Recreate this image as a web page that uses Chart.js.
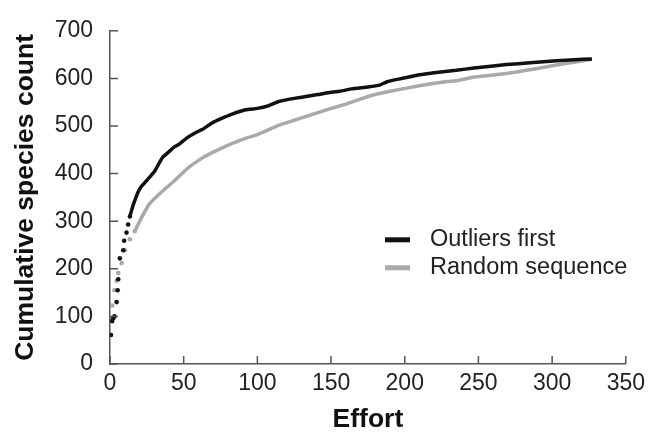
<!DOCTYPE html>
<html>
<head>
<meta charset="utf-8">
<script src="https://cdn.jsdelivr.net/npm/chart.js@4/dist/chart.umd.min.js"></script>
<style>
    html, body { margin: 0; padding: 0; background: #fff; }
    #wrap { width: 651px; height: 440px; }
</style>
</head>
<body>
<div id="wrap"><canvas id="chart-effort"></canvas></div>
<script>
// Değerler
const seriesLabels = ["Outliers first", "Random sequence"];

const effortOutliers = [0.7, 1.5, 2.2, 3, 4.5, 5.2, 5.6, 6.7, 9, 9.6, 11.2, 12.3, 13.5, 15.7, 17, 19,
    21, 23.6, 27, 30.3, 33, 35.9, 40, 43.7, 47, 52.7, 58, 62.8, 69.5, 75, 82, 92, 100, 107, 114,
    125, 135, 141, 148, 156, 164, 175, 183, 188, 195, 209, 220, 235, 247, 260, 269, 285, 303, 315, 327];
const countOutliers = [61, 90, 96, 100, 130, 155, 178, 222, 239, 259, 276, 293, 310, 334, 345, 361,
    372, 381, 393, 405, 420, 435, 446, 456, 462, 476, 486, 493, 507, 515, 524, 534, 537, 542, 551,
    558, 563, 566, 570, 573, 578, 582, 586, 593, 598, 607, 612, 617, 622, 626, 629, 633, 637, 639, 641];

const effortRandom = [1.5, 3, 4.5, 5.6, 7.9, 10.1, 13.5, 16.8, 21.3, 26.9, 34.8, 43.7, 53, 62.8, 70,
    81, 92, 100, 114, 125, 135, 148, 160, 175, 190, 209, 225, 235, 247, 260, 275, 290, 303, 315, 327];
const countRandom = [123, 155, 175, 191, 212, 239, 262, 279, 307, 337, 361, 385, 412, 433, 445,
    461, 474, 482, 501, 512, 522, 535, 546, 562, 573, 584, 592, 595, 603, 607, 613, 621, 628, 634, 640];

const xTicks = [0, 50, 100, 150, 200, 250, 300, 350];
const yTicks = [0, 100, 200, 300, 400, 500, 600, 700];

const toPoints = (xs, ys) => xs.map((x, i) => ({ x, y: ys[i] }));

const AXIS_COLOR = "#555";
const FONT = "'Liberation Sans', Arial, Helvetica, sans-serif";

// Noktalı başlangıç: seyrek kısımda çizgi yok, sadece nokta
function dotUntil(limit) {
    return {
        pointRadius: (c) => (c.raw && c.raw.x < limit ? 2.3 : 0),
        segment: {
            borderColor: (c) => (c.p1.parsed.x < limit ? "rgba(0,0,0,0)" : undefined)
        }
    };
}

// İçe doğru tick çizgileri
const innerTicks = {
    id: "innerTicks",
    afterDraw(chart) {
        const { ctx, chartArea, scales } = chart;
        ctx.save();
        ctx.strokeStyle = AXIS_COLOR;
        ctx.lineWidth = 1.5;
        ctx.beginPath();
        scales.x.ticks.forEach((t) => {
            const px = scales.x.getPixelForValue(t.value);
            ctx.moveTo(px, chartArea.bottom);
            ctx.lineTo(px, chartArea.bottom - 8);
        });
        scales.y.ticks.forEach((t) => {
            const py = scales.y.getPixelForValue(t.value);
            ctx.moveTo(chartArea.left, py);
            ctx.lineTo(chartArea.left + 8, py);
        });
        ctx.stroke();
        ctx.restore();
    }
};

// Grafik içindeki gösterge
const insideLegend = {
    id: "insideLegend",
    afterDraw(chart) {
        const { ctx, chartArea } = chart;
        const x0 = chartArea.left + 275;
        const y0 = chartArea.top + 209;
        ctx.save();
        ctx.font = `23.5px ${FONT}`;
        ctx.textBaseline = "middle";
        chart.data.datasets.forEach((ds, i) => {
            const y = y0 + i * 28;
            ctx.fillStyle = ds.borderColor;
            ctx.fillRect(x0, y - 2.5, 25, 5);
            ctx.fillStyle = "#222";
            ctx.fillText(ds.label, x0 + 45, y);
        });
        ctx.restore();
    }
};

const ctx = document.getElementById("chart-effort").getContext("2d");
new Chart(ctx, {
    type: "line",
    data: {
        datasets: [
            {
                label: seriesLabels[0],
                data: toPoints(effortOutliers, countOutliers),
                borderColor: "#111",
                backgroundColor: "#111",
                borderWidth: 3.5,
                pointBorderWidth: 0,
                tension: 0.1,
                ...dotUntil(14)
            },
            {
                label: seriesLabels[1],
                data: toPoints(effortRandom, countRandom),
                borderColor: "#a9a9a9",
                backgroundColor: "#a9a9a9",
                borderWidth: 3.5,
                pointBorderWidth: 0,
                tension: 0.1,
                ...dotUntil(20)
            }
        ]
    },
    options: {
        responsive: true,
        maintainAspectRatio: false,
        animation: false,
        layout: { padding: { top: 18, right: 19, left: 0, bottom: 0 } },
        plugins: {
            legend: { display: false },
            tooltip: { enabled: false }
        },
        scales: {
            x: {
                type: "linear",
                min: 0,
                max: 350,
                afterBuildTicks: (s) => { s.ticks = xTicks.map((v) => ({ value: v })); },
                afterFit: (s) => { s.height = 76; },
                ticks: { font: { size: 23, family: FONT }, color: "#222", padding: 6 },
                grid: { drawOnChartArea: false, drawTicks: false },
                border: { color: AXIS_COLOR, width: 1.5 },
                title: {
                    display: true,
                    text: "Effort",
                    font: { size: 26.5, weight: "bold", family: FONT },
                    color: "#111",
                    padding: { top: 4, bottom: 4 }
                }
            },
            y: {
                min: 0,
                max: 700,
                afterBuildTicks: (s) => { s.ticks = yTicks.map((v) => ({ value: v })); },
                afterFit: (s) => { s.width = 110; },
                ticks: { font: { size: 23, family: FONT }, color: "#222", padding: 17 },
                grid: { drawOnChartArea: false, drawTicks: false },
                border: { color: AXIS_COLOR, width: 1.5 },
                title: {
                    display: true,
                    text: "Cumulative species count",
                    font: { size: 26.5, weight: "bold", family: FONT },
                    color: "#111",
                    padding: { top: 10, bottom: 4 }
                }
            }
        }
    },
    plugins: [innerTicks, insideLegend]
});
</script>
</body>
</html>
